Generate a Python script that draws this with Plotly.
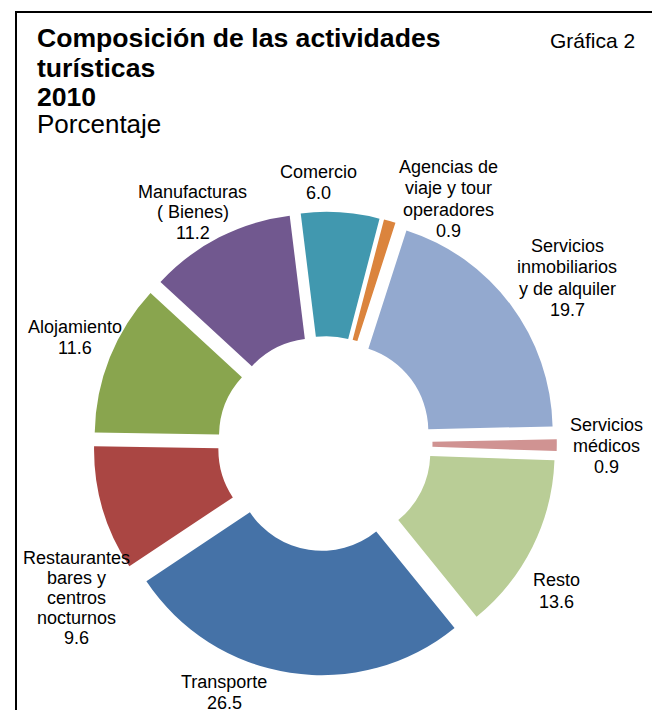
import plotly.graph_objects as go

# ---- data ----
categories = [
    "Comercio",
    "Agencias de<br>viaje y tour<br>operadores",
    "Servicios<br>inmobiliarios<br>y de alquiler",
    "Servicios<br>médicos",
    "Resto",
    "Transporte",
    "Restaurantes<br>bares y<br>centros<br>nocturnos",
    "Alojamiento",
    "Manufacturas<br>( Bienes)",
]
values = [6.0, 0.9, 19.7, 0.9, 13.6, 26.5, 9.6, 11.6, 11.2]
colors = ["#4198AF", "#DB843D", "#93A9CF", "#D09392", "#B9CD96",
          "#4572A7", "#AA4643", "#89A54E", "#71588F"]

title_lines = ["Composición de las actividades", "turísticas", "2010"]
subtitle = "Porcentaje"
chart_tag = "Gráfica 2"

# ---- layout helpers (pixel positions in the page window) ----
W, H = 660, 710
OFF = 8  # page body margin
label_pos = [  # (x centre, first line y centre, line spacing)
    (318, 172, 21),
    (448, 167, 21.3),
    (567, 246, 21.3),
    (606, 425, 21),
    (556, 580, 22),
    (224, 682, 21),
    (76, 558, 20),
    (75, 327, 21),
    (193, 192, 20.5),
]

FONT = "Liberation Sans, Arial, sans-serif"

def px(x):
    return (x - OFF) / W

def py(y):
    return 1 - (y - OFF) / H

# pie geometry: centre (325, 443.6), half-size 231.8 px
CX, CY, HS = 325, 443.6, 231.8

fig = go.Figure()
fig.add_trace(go.Pie(
    labels=[c.replace("<br>", " ") for c in categories],
    values=values,
    sort=False,
    direction="clockwise",
    rotation=-7,
    hole=0.41,
    pull=[0.1] * len(values),
    marker=dict(colors=colors, line=dict(width=0)),
    textinfo="none",
    hoverinfo="label+value",
    showlegend=False,
    domain=dict(x=[px(CX - HS), px(CX + HS)], y=[py(CY + HS), py(CY - HS)]),
))

annotations = []
for name, val, (cx, y0, sp) in zip(categories, values, label_pos):
    lines = name.split("<br>") + [f"{val:.1f}"]
    for i, ln in enumerate(lines):
        annotations.append(dict(
            x=px(cx), y=py(y0 + i * sp), xref="paper", yref="paper",
            text=ln, showarrow=False, xanchor="center", yanchor="middle",
            font=dict(family=FONT, size=18, color="#000000"),
        ))

title_y = [38, 68, 97]
for ln, y in zip(title_lines, title_y):
    annotations.append(dict(
        x=px(35), y=py(y), xref="paper", yref="paper", text=f"<b>{ln}</b>",
        showarrow=False, xanchor="left", yanchor="middle",
        font=dict(family=FONT, size=26.6, color="#000000"),
    ))
annotations.append(dict(
    x=px(35), y=py(124), xref="paper", yref="paper", text=subtitle,
    showarrow=False, xanchor="left", yanchor="middle",
    font=dict(family=FONT, size=26, color="#000000"),
))
annotations.append(dict(
    x=px(637), y=py(40), xref="paper", yref="paper", text=chart_tag,
    showarrow=False, xanchor="right", yanchor="middle",
    font=dict(family=FONT, size=21, color="#000000"),
))

fig.update_layout(
    width=W, height=H,
    margin=dict(l=0, r=0, t=0, b=0),
    paper_bgcolor="white", plot_bgcolor="white",
    annotations=annotations,
    shapes=[dict(type="rect", xref="paper", yref="paper",
                 x0=px(16), x1=px(656), y0=py(760), y1=py(12),
                 line=dict(color="black", width=2))],
)

fig.write_html("out.html")
